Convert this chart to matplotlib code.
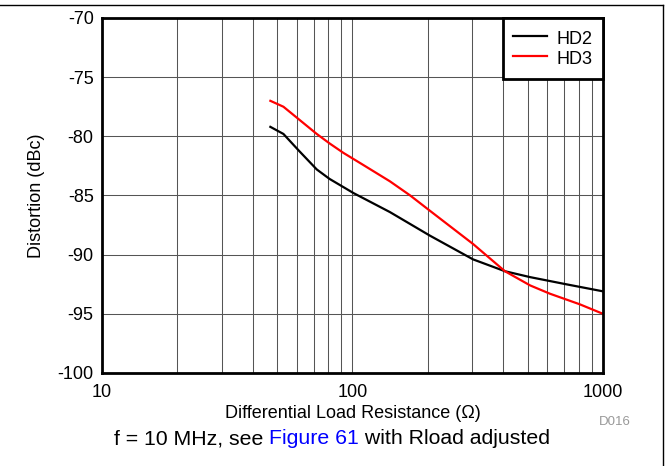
import numpy as np
import matplotlib
matplotlib.use('Agg')
import matplotlib.pyplot as plt
from matplotlib.ticker import FixedLocator, FixedFormatter, NullFormatter
from matplotlib.lines import Line2D

plt.rcParams['font.family'] = ['Liberation Sans', 'DejaVu Sans']

# values
r_hd2 = [47, 53, 61, 72, 81, 101, 141, 204, 303, 406, 512, 712, 1000]
hd2 = [-79.2, -79.8, -81.2, -82.8, -83.6, -84.8, -86.4, -88.4, -90.4, -91.4, -91.9, -92.5, -93.1]
r_hd3 = [47, 53, 72, 81, 92, 110, 141, 170, 204, 303, 406, 512, 614, 809, 1000]
hd3 = [-77.0, -77.5, -79.8, -80.6, -81.4, -82.4, -83.8, -85.0, -86.3, -89.1, -91.4, -92.6, -93.3, -94.2, -95.0]

x_ticks = [10, 100, 1000]
x_labels = ['10', '100', '1000']
y_ticks = [-100, -95, -90, -85, -80, -75, -70]

fig = plt.figure(figsize=(6.69, 4.66), dpi=100)
ax = fig.add_axes([0.1525, 0.1996, 0.7488, 0.7618])

ax.plot(r_hd2, hd2, color='black', lw=1.6, label='HD2')
ax.plot(r_hd3, hd3, color='#ff0000', lw=1.6, label='HD3')

ax.set_xscale('log')
ax.set_xlim(10, 1000)
ax.set_ylim(-100, -70)
ax.xaxis.set_major_locator(FixedLocator(x_ticks))
ax.xaxis.set_major_formatter(FixedFormatter(x_labels))
ax.xaxis.set_minor_formatter(NullFormatter())
ax.set_yticks(y_ticks)
ax.set_yticklabels([str(v) for v in y_ticks])
ax.tick_params(which='both', length=0, labelsize=13)
ax.tick_params(axis='x', pad=8)
ax.tick_params(axis='y', pad=6)
ax.grid(True, which='both', color='#555555', lw=0.75)
ax.set_axisbelow(True)
for s in ax.spines.values():
    s.set_linewidth(2)

ax.set_xlabel('Differential Load Resistance (\u03a9)', fontsize=13, labelpad=3)
ax.set_ylabel('Distortion (dBc)', fontsize=13, labelpad=9)

leg = ax.legend(loc='upper right', fontsize=13, fancybox=False, framealpha=1,
                edgecolor='black', borderaxespad=0, handlelength=1.85,
                handleheight=1.3, handletextpad=0.55, labelspacing=0.0,
                borderpad=0.58)
leg.get_frame().set_linewidth(2)

fig.text(0.919, 0.095, 'D016', color='#999999', fontsize=9.5, ha='center', va='center')

# caption, three pieces placed side by side and centred as a group
parts = [('f = 10 MHz, see ', 'black'), ('Figure 61', '#0000ff'), (' with Rload adjusted', 'black')]
texts = []
for s, c in parts:
    texts.append(fig.text(0, 0.058, s, fontsize=15.3, color=c, ha='left', va='center'))
fig.canvas.draw()
rend = fig.canvas.get_renderer()
widths = [t.get_window_extent(rend).width for t in texts]
x0 = 332 - sum(widths) / 2
for t, w in zip(texts, widths):
    t.set_x(x0 / 669)
    x0 += w

# thin frame lines along top and right edge of the figure
fig.add_artist(Line2D([0, 0.991], [0.989, 0.989], color='black', lw=1, transform=fig.transFigure))
fig.add_artist(Line2D([0.991, 0.991], [0, 0.989], color='black', lw=1, transform=fig.transFigure))

fig.savefig('out.png', dpi=100)
